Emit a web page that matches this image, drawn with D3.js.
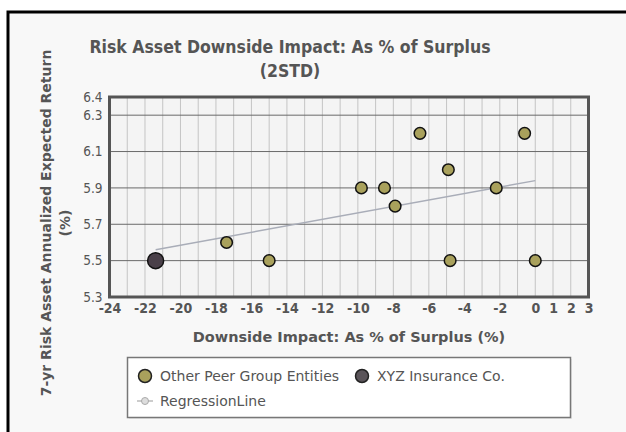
<!DOCTYPE html>
<html lang="en">
<head>
  <meta charset="UTF-8">
  <title>Risk Asset Downside Impact</title>
  <style>
  body { margin: 0; background: #fff; }
  svg { display: block; font-family: "DejaVu Sans Condensed", "DejaVu Sans", sans-serif; }
  </style>
</head>
<body>
  <svg></svg>
  <script src="https://d3js.org/d3.v7.min.js"></script>
  <script>
  // peer group entities
  var peerX = [-17.4, -15, -9.8, -8.5, -7.9, -6.5, -4.9, -4.8, -2.2, -0.6, 0];
  var peerY = [5.6, 5.5, 5.9, 5.9, 5.8, 6.2, 6.0, 5.5, 5.9, 6.2, 5.5];
  // the company
  var xyzX = [-21.4];
  var xyzY = [5.5];
  // regression line end points
  var regX = [-21.4, 0];
  var regY = [5.56, 5.94];
  var xTicks = [-24, -22, -20, -18, -16, -14, -12, -10, -8, -6, -4, -2, 0, 1, 2, 3];
  var yTicks = [5.3, 5.5, 5.7, 5.9, 6.1, 6.3, 6.4];
  var yGrid = [5.5, 5.7, 5.9, 6.1, 6.3];
  var legendNames = ["Other Peer Group Entities", "XYZ Insurance Co.", "RegressionLine"];

  var width = 626, height = 432;
  var pLeft = 109.5, pRight = 588.5, pTop = 97, pBottom = 297;

  var svg = d3.select("svg").attr("width", width).attr("height", height);

  // outer frame
  svg.append("rect").attr("x", 8).attr("y", 12).attr("width", 640).attr("height", 440)
    .attr("fill", "#f8f8f8").attr("stroke", "#000").attr("stroke-width", 3);

  var xScale = d3.scaleLinear().domain([-24, 3]).range([pLeft, pRight]);
  var yScale = d3.scaleLinear().domain([5.3, 6.4]).range([pBottom, pTop]);

  // plot bg
  svg.append("rect").attr("x", pLeft).attr("y", pTop)
    .attr("width", pRight - pLeft).attr("height", pBottom - pTop).attr("fill", "#f4f4f4");

  // vertical grid every unit
  svg.append("g").selectAll("line").data(d3.range(-23, 3))
    .enter().append("line")
      .attr("x1", d => xScale(d)).attr("x2", d => xScale(d))
      .attr("y1", pTop).attr("y2", pBottom)
      .attr("stroke", "#c4c4c4").attr("stroke-width", 1);

  svg.append("g").selectAll("line").data(yGrid)
    .enter().append("line")
      .attr("x1", pLeft).attr("x2", pRight)
      .attr("y1", d => yScale(d)).attr("y2", d => yScale(d))
      .attr("stroke", "#6a6a6a").attr("stroke-width", 1);

  svg.append("rect").attr("x", pLeft).attr("y", pTop)
    .attr("width", pRight - pLeft).attr("height", pBottom - pTop)
    .attr("fill", "none").attr("stroke", "#555").attr("stroke-width", 3);

  // axes labels
  var xAxis = d3.axisBottom(xScale).tickValues(xTicks).tickSize(0).tickPadding(5)
    .tickFormat(d => String(d));
  var gx = svg.append("g").attr("transform", "translate(0," + (pBottom + 1) + ")").call(xAxis);
  gx.select(".domain").remove();
  gx.selectAll("text").attr("font-size", 14).attr("font-weight", "bold").attr("fill", "#555")
    .attr("font-family", "DejaVu Sans Condensed, DejaVu Sans");

  var yAxis = d3.axisLeft(yScale).tickValues(yTicks).tickSize(0).tickPadding(6);
  var gy = svg.append("g").attr("transform", "translate(" + (pLeft - 1) + ",0)").call(yAxis);
  gy.select(".domain").remove();
  gy.selectAll("text").attr("font-size", 13.5).attr("fill", "#555")
    .attr("font-family", "DejaVu Sans Condensed, DejaVu Sans");

  // regression line
  svg.append("path")
    .datum(d3.zip(regX, regY))
    .attr("d", d3.line().x(d => xScale(d[0])).y(d => yScale(d[1])))
    .attr("stroke", "#a9adb8").attr("stroke-width", 1.5).attr("fill", "none");

  svg.append("g").selectAll("circle").data(d3.zip(peerX, peerY))
    .enter().append("circle")
      .attr("cx", d => xScale(d[0])).attr("cy", d => yScale(d[1])).attr("r", 5.8)
      .attr("fill", "#a9a15c").attr("stroke", "#111").attr("stroke-width", 1.5);

  svg.append("g").selectAll("circle").data(d3.zip(xyzX, xyzY))
    .enter().append("circle")
      .attr("cx", d => xScale(d[0])).attr("cy", d => yScale(d[1])).attr("r", 8)
      .attr("fill", "#4a4049").attr("stroke", "#111").attr("stroke-width", 1.5);

  // titles
  var title = svg.append("text").attr("x", 290).attr("y", 53).attr("text-anchor", "middle")
    .attr("font-size", 17.5).attr("font-weight", "bold").attr("fill", "#555");
  title.append("tspan").attr("x", 290).text("Risk Asset Downside Impact: As % of Surplus");
  title.append("tspan").attr("x", 290).attr("dy", 24).text("(2STD)");

  svg.append("text").attr("x", (pLeft + pRight) / 2).attr("y", 342).attr("text-anchor", "middle")
    .attr("font-size", 14.5).attr("font-weight", "bold").attr("fill", "#555")
    .attr("font-family", "DejaVu Sans")
    .text("Downside Impact: As % of Surplus (%)");

  var yt = svg.append("text").attr("transform", "translate(51,223) rotate(-90)")
    .attr("text-anchor", "middle").attr("font-size", 14).attr("font-weight", "bold").attr("fill", "#555")
    .attr("font-family", "DejaVu Sans");
  yt.append("tspan").attr("x", 0).text("7-yr Risk Asset Annualized Expected Return");
  yt.append("tspan").attr("x", 0).attr("dy", 19).text("(%)");

  // legend
  var lg = svg.append("g");
  lg.append("rect").attr("x", 129).attr("y", 359).attr("width", 443).attr("height", 60)
    .attr("fill", "#ddd").attr("opacity", 0.6);
  lg.append("rect").attr("x", 127.5).attr("y", 357.5).attr("width", 443).attr("height", 60)
    .attr("fill", "#fff").attr("stroke", "#777").attr("stroke-width", 1.5);

  lg.append("circle").attr("cx", 145).attr("cy", 376).attr("r", 6.5)
    .attr("fill", "#a9a15c").attr("stroke", "#222").attr("stroke-width", 1.5);
  lg.append("circle").attr("cx", 362).attr("cy", 376).attr("r", 6.5)
    .attr("fill", "#5a5459").attr("stroke", "#222").attr("stroke-width", 1.5);
  lg.append("line").attr("x1", 137).attr("x2", 153).attr("y1", 401).attr("y2", 401)
    .attr("stroke", "#bbb").attr("stroke-width", 1.5);
  lg.append("circle").attr("cx", 145).attr("cy", 401).attr("r", 3.5)
    .attr("fill", "#ddd").attr("stroke", "#aaa").attr("stroke-width", 1);

  lg.selectAll("text.leg").data(legendNames).enter().append("text")
    .attr("class", "leg")
    .attr("x", (d, i) => i == 1 ? 377 : 160)
    .attr("y", (d, i) => i == 2 ? 405.5 : 380.5)
    .attr("font-size", 14).attr("fill", "#555")
    .attr("font-family", "DejaVu Sans")
    .text(d => d);
  </script>
</body>
</html>
